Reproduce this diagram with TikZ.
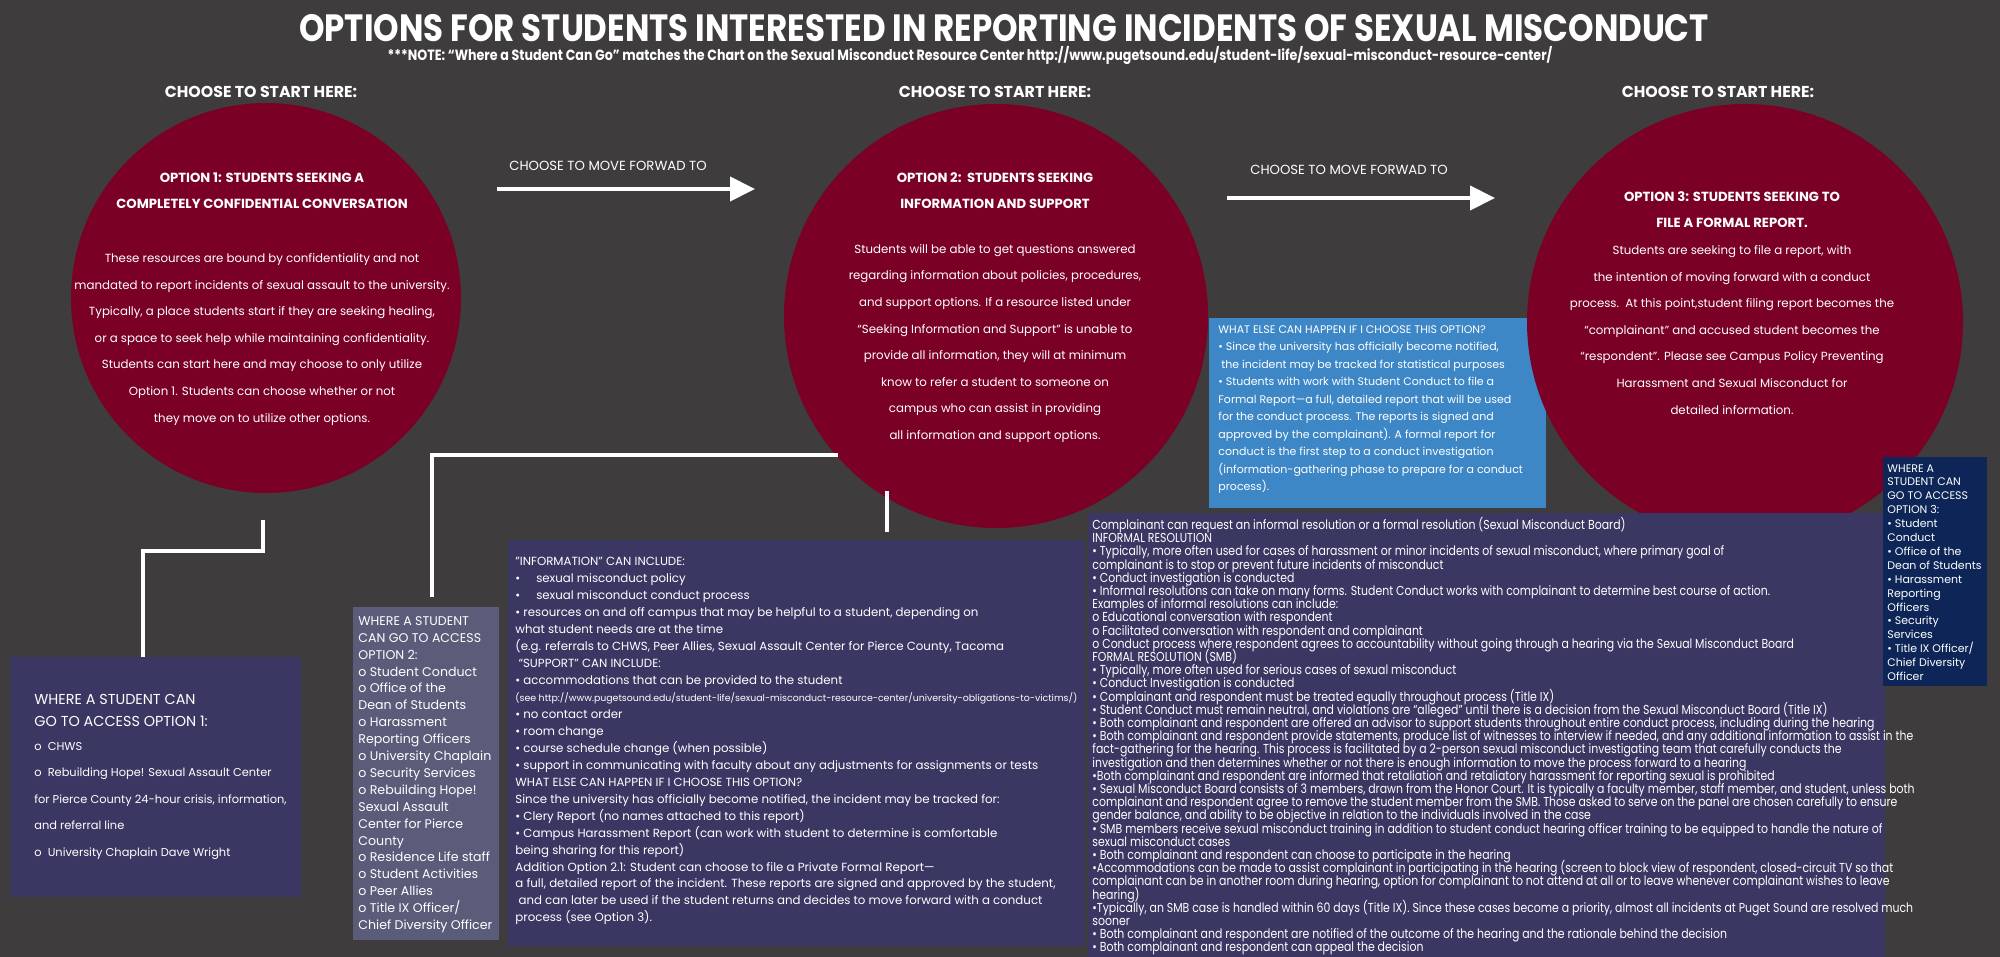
\documentclass[tikz,border=0pt]{standalone}
\usepackage{fontspec}
\setmainfont{Poppins}
\newfontfamily\narrowfont{Poppins}[FakeStretch=0.84]
\newfontfamily\titlefont{Poppins}[FakeStretch=0.855]
\usepackage{tikz}
\usetikzlibrary{arrows.meta,positioning}
\definecolor{charcoal}{HTML}{3F3C3D}
\definecolor{wine}{HTML}{7A0026}
\definecolor{plum}{HTML}{3B3763}
\definecolor{slate}{HTML}{5B5C7A}
\definecolor{azure}{HTML}{3E87C7}
\definecolor{navy}{HTML}{0D2657}

\begin{document}
\begin{tikzpicture}[x=0.5pt,y=-0.5pt,
  every node/.style={text=white,inner sep=0pt},
  bubble/.style={circle,fill=wine,minimum size=#1},
  panel/.style={fill=#1,anchor=north west},
  start/.style={font=\fontsize{7.9}{9}\selectfont\bfseries},
  head/.style={font=\fontsize{6.6}{13.3}\selectfont\bfseries,align=center,anchor=north},
  body/.style={font=\fontsize{5.9}{13.3}\selectfont,align=center,anchor=north},
  note/.style={align=left,anchor=north west},
  link/.style={draw=white,line width=2pt},
  move/.style={draw=white,line width=2pt,-{Triangle[length=12.5pt,width=12pt]}}]
\fill[charcoal] (0,0) rectangle (2000,957);
\useasboundingbox (0,0) rectangle (2000,957);

\node[font={\titlefont\bfseries\fontsize{19}{20}\selectfont}] (title) at (1004,28) {OPTIONS FOR STUDENTS INTERESTED IN REPORTING INCIDENTS OF SEXUAL MISCONDUCT};
\node[font={\titlefont\bfseries\fontsize{7.4}{8}\selectfont}] (nb) at (970,56) {***NOTE: “Where a Student Can Go” matches the Chart on the Sexual Misconduct Resource Center http://www.pugetsound.edu/student-life/sexual-misconduct-resource-center/};

\node[start] (start1) at (261,92) {CHOOSE TO START HERE:};
\node[start] (start2) at (995,92) {CHOOSE TO START HERE:};
\node[start] (start3) at (1718,92) {CHOOSE TO START HERE:};

\node[panel=azure,minimum width=168.5pt,minimum height=95pt] (happen) at (1209,318) {};
\node[bubble=195pt] (opt1) at (266,298) {};
\node[bubble=212pt] (opt2) at (996,316) {};
\node[bubble=218pt] (opt3) at (1745,322) {};

\node[panel=plum,minimum width=145.5pt,minimum height=120pt] (where1) at (10,657) {};
\node[panel=slate,minimum width=73pt,minimum height=166.5pt] (where2) at (353,607) {};
\node[panel=plum,minimum width=288.5pt,minimum height=203pt] (info) at (508,540) {};
\node[panel=plum,minimum width=398.5pt,minimum height=225pt] (smb) at (1088,513) {};
\node[panel=navy,minimum width=52pt,minimum height=114.5pt] (where3) at (1883,457) {};

\coordinate (go1a) at (497,189);
\coordinate (go1b) at (755,189);
\coordinate (go2a) at (1227,198);
\coordinate (go2b) at (1495,198);
\draw[move] (go1a) -- (go1b);
\draw[move] (go2a) -- (go2b);
\node[font=\fontsize{6.6}{7}\selectfont] (fwd1) at (608,166) {CHOOSE TO MOVE FORWAD TO};
\node[font=\fontsize{6.6}{7}\selectfont] (fwd2) at (1349,170) {CHOOSE TO MOVE FORWAD TO};

\coordinate (k1) at (263,520);
\coordinate (k2) at (432,455);
\coordinate (k3) at (887,491);
\draw[link] (k1) |- (143,551) -- (143,551 |- where1.north);
\draw[link,shorten <=5pt] (k2 |- where2.north) -- (k2) -- (k2 -| opt2.222);
\draw[link,shorten >=4pt] (k3) -- (k3 |- info.north);

\node[head] (h1) at (262,172) {OPTION 1: STUDENTS SEEKING A\\COMPLETELY CONFIDENTIAL CONVERSATION};
\node[body] (t1) at (262,253) {These resources are bound by confidentiality and not\\
mandated to report incidents of sexual assault to the university.\\
Typically, a place students start if they are seeking healing,\\
or a space to seek help while maintaining confidentiality.\\
Students can start here and may choose to only utilize\\
Option 1. Students can choose whether or not\\
they move on to utilize other options.};

\node[head] (h2) at (995,172) {OPTION 2:\ \ STUDENTS SEEKING\\INFORMATION AND SUPPORT};
\node[body] (t2) at (995,244) {Students will be able to get questions answered\\
regarding information about policies, procedures,\\
and support options. If a resource listed under\\
“Seeking Information and Support” is unable to\\
provide all information, they will at minimum\\
know to refer a student to someone on\\
campus who can assist in providing\\
all information and support options.};

\node[head] (h3) at (1732,191) {OPTION 3: STUDENTS SEEKING TO\\FILE A FORMAL REPORT.};
\node[body] (t3) at (1732,245) {Students are seeking to file a report, with\\
the intention of moving forward with a conduct\\
process.\ \ At this point,student filing report becomes the\\
“complainant” and accused student becomes the\\
“respondent”. Please see Campus Policy Preventing\\
Harassment and Sexual Misconduct for\\
detailed information.};

\node[note,font=\fontsize{5.5}{8.75}\selectfont] (t4) at (1218,325) {WHAT ELSE CAN HAPPEN IF I CHOOSE THIS OPTION?\\
• Since the university has officially become notified,\\
\ the incident may be tracked for statistical purposes\\
• Students with work with Student Conduct to file a\\
Formal Report—a full, detailed report that will be used\\
for the conduct process. The reports is signed and\\
approved by the complainant). A formal report for\\
conduct is the first step to a conduct investigation\\
(information-gathering phase to prepare for a conduct\\
process).};

\node[note,font=\fontsize{7.2}{11}\selectfont] (h5) at (34,694) {WHERE A STUDENT CAN\\GO TO ACCESS OPTION 1:};
\node[note,font=\fontsize{5.7}{13.2}\selectfont] (t5) at (34,742) {o\ \ CHWS\\
o\ \ Rebuilding Hope! Sexual Assault Center\\
for Pierce County 24-hour crisis, information,\\
and referral line\\
o\ \ University Chaplain Dave Wright};

\node[note,font={\fontsize{6.3}{8.45}\selectfont\lineskiplimit=-10pt}] (t6) at (358,616) {WHERE A STUDENT\\
CAN GO TO ACCESS\\
OPTION 2:\\
o Student Conduct\\
o Office of the\\
Dean of Students\\
o Harassment\\
Reporting Officers\\
o University Chaplain\\
o Security Services\\
o Rebuilding Hope!\\
Sexual Assault\\
Center for Pierce\\
County\\
o Residence Life staff\\
o Student Activities\\
o Peer Allies\\
o Title IX Officer/\\
Chief Diversity Officer};

\node[note,font={\fontsize{5.9}{8.48}\selectfont\lineskiplimit=-10pt}] (t7) at (515,557) {"INFORMATION" CAN INCLUDE:\\
•\hspace{8pt}sexual misconduct policy\\
•\hspace{8pt}sexual misconduct conduct process\\
• resources on and off campus that may be helpful to a student, depending on\\
what student needs are at the time\\
(e.g. referrals to CHWS, Peer Allies, Sexual Assault Center for Pierce County, Tacoma\\
\ “SUPPORT” CAN INCLUDE:\\
• accommodations that can be provided to the student\\
{\fontsize{4.7}{8.48}\selectfont (see http://www.pugetsound.edu/student-life/sexual-misconduct-resource-center/university-obligations-to-victims/)}\\
• no contact order\\
• room change\\
• course schedule change (when possible)\\
• support in communicating with faculty about any adjustments for assignments or tests\\
WHAT ELSE CAN HAPPEN IF I CHOOSE THIS OPTION?\\
Since the university has officially become notified, the incident may be tracked for:\\
• Clery Report (no names attached to this report)\\
• Campus Harassment Report (can work with student to determine is comfortable\\
being sharing for this report)\\
Addition Option 2.1: Student can choose to file a Private Formal Report—\\
a full, detailed report of the incident. These reports are signed and approved by the student,\\
\ and can later be used if the student returns and decides to move forward with a conduct\\
process (see Option 3).};

\node[note,font={\narrowfont\fontsize{6.5}{6.6}\selectfont\lineskiplimit=-10pt}] (t8) at (1092,517) {Complainant can request an informal resolution or a formal resolution (Sexual Misconduct Board)\\
INFORMAL RESOLUTION\\
• Typically, more often used for cases of harassment or minor incidents of sexual misconduct, where primary goal of\\
complainant is to stop or prevent future incidents of misconduct\\
• Conduct investigation is conducted\\
• Informal resolutions can take on many forms. Student Conduct works with complainant to determine best course of action.\\
Examples of informal resolutions can include:\\
o Educational conversation with respondent\\
o Facilitated conversation with respondent and complainant\\
o Conduct process where respondent agrees to accountability without going through a hearing via the Sexual Misconduct Board\\
FORMAL RESOLUTION (SMB)\\
• Typically, more often used for serious cases of sexual misconduct\\
• Conduct Investigation is conducted\\
• Complainant and respondent must be treated equally throughout process (Title IX)\\
• Student Conduct must remain neutral, and violations are “alleged” until there is a decision from the Sexual Misconduct Board (Title IX)\\
• Both complainant and respondent are offered an advisor to support students throughout entire conduct process, including during the hearing\\
• Both complainant and respondent provide statements, produce list of witnesses to interview if needed, and any additional information to assist in the\\
fact-gathering for the hearing. This process is facilitated by a 2-person sexual misconduct investigating team that carefully conducts the\\
investigation and then determines whether or not there is enough information to move the process forward to a hearing\\
•Both complainant and respondent are informed that retaliation and retaliatory harassment for reporting sexual is prohibited\\
• Sexual Misconduct Board consists of 3 members, drawn from the Honor Court. It is typically a faculty member, staff member, and student, unless both\\
complainant and respondent agree to remove the student member from the SMB. Those asked to serve on the panel are chosen carefully to ensure\\
gender balance, and ability to be objective in relation to the individuals involved in the case\\
• SMB members receive sexual misconduct training in addition to student conduct hearing officer training to be equipped to handle the nature of\\
sexual misconduct cases\\
• Both complainant and respondent can choose to participate in the hearing\\
•Accommodations can be made to assist complainant in participating in the hearing (screen to block view of respondent, closed-circuit TV so that\\
complainant can be in another room during hearing, option for complainant to not attend at all or to leave whenever complainant wishes to leave\\
hearing)\\
•Typically, an SMB case is handled within 60 days (Title IX). Since these cases become a priority, almost all incidents at Puget Sound are resolved much\\
sooner\\
• Both complainant and respondent are notified of the outcome of the hearing and the rationale behind the decision\\
• Both complainant and respondent can appeal the decision};

\node[note,font={\fontsize{5.5}{6.95}\selectfont\lineskiplimit=-10pt}] (t9) at (1887,464) {WHERE A\\
STUDENT CAN\\
GO TO ACCESS\\
OPTION 3:\\
• Student\\
Conduct\\
• Office of the\\
Dean of Students\\
• Harassment\\
Reporting\\
Officers\\
• Security\\
Services\\
• Title IX Officer/\\
Chief Diversity\\
Officer};
\end{tikzpicture}
\end{document}
